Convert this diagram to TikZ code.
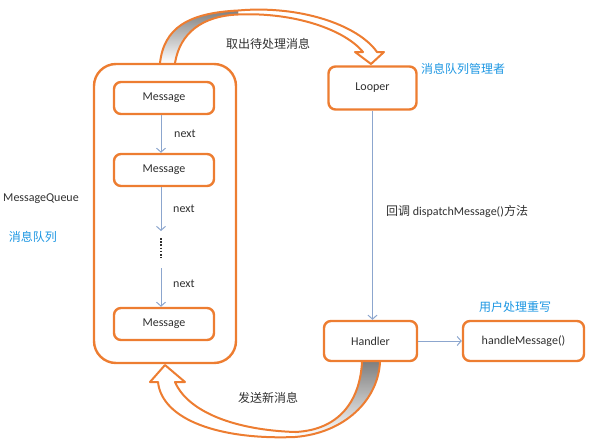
\documentclass[tikz,border=0pt]{standalone}
\usepackage{fontspec}
\setmainfont{Carlito}
\newfontfamily\cjk{Noto Sans CJK SC}
\usetikzlibrary{arrows.meta}
\definecolor{boxorange}{RGB}{237,125,49}
\definecolor{linkblue}{RGB}{140,166,206}
\definecolor{notecyan}{RGB}{28,150,226}
\definecolor{txtgray}{RGB}{48,48,48}
\definecolor{shade}{RGB}{200,200,200}

\begin{document}
\begin{tikzpicture}[x=1pt,y=-1pt,font=\fontsize{12}{14}\selectfont,
  txt/.style={text=txtgray,inner sep=0pt},
  cn/.style={text=txtgray,inner sep=0pt,font=\fontsize{12}{14}\selectfont\cjk},
  note/.style={text=notecyan,inner sep=0pt,font=\fontsize{12}{14}\selectfont\cjk},
  msgbox/.style={draw=boxorange,line width=2.4pt,rounded corners=7pt,fill=white,
    text=txtgray,minimum width=100pt,minimum height=32pt,inner sep=0pt},
  link/.style={draw=linkblue,line width=1pt,-{Straight Barb[length=4pt,width=9pt]}},
  bandline/.style={draw=boxorange,line width=2pt,line join=round}]

  \useasboundingbox (0,0) rectangle (600,442);

  % top band: queue -> looper
  \fill[white] (160,63) .. controls (164,28) and (188,13) .. (238,10.5)
    .. controls (300,5) and (358,25) .. (377,52) -- (384,52) -- (371,64) -- (355,52) -- (363,52)
    .. controls (345,30) and (295,12) .. (238,14.5)
    .. controls (202,16) and (180,33) .. (175,63) -- cycle;
  \fill[shade] (160,63) .. controls (164,28) and (188,13) .. (238,10.5) -- (238,14.5)
    .. controls (202,16) and (180,33) .. (175,63) -- cycle;
  \draw[bandline] (160,63) .. controls (164,28) and (188,13) .. (238,10.5)
    .. controls (300,5) and (358,25) .. (377,52) -- (384,52) -- (371,64) -- (355,52) -- (363,52)
    .. controls (345,30) and (295,12) .. (238,14.5)
    .. controls (202,16) and (180,33) .. (175,63);

  % bottom band: handler -> queue
  \fill[white] (380,362) .. controls (378,400) and (345,433) .. (295,437)
    .. controls (220,440) and (162,420) .. (158,382) -- (150,382) -- (165,365) -- (185,382) -- (175,382)
    .. controls (188,412) and (235,430) .. (295,432)
    .. controls (340,430) and (360,400) .. (362,362) -- cycle;
  \fill[shade] (380,362) .. controls (378,400) and (345,433) .. (295,437) -- (295,432)
    .. controls (340,430) and (360,400) .. (362,362) -- cycle;
  \draw[bandline] (380,362) .. controls (378,400) and (345,433) .. (295,437)
    .. controls (220,440) and (162,420) .. (158,382) -- (150,382) -- (165,365) -- (185,382) -- (175,382)
    .. controls (188,412) and (235,430) .. (295,432)
    .. controls (340,430) and (360,400) .. (362,362);

  \node[draw=boxorange,line width=2.4pt,rounded corners=22pt,minimum width=142pt,
    minimum height=299pt,inner sep=0pt] (queue) at (165,213.5) {};

  \node[msgbox] (m1) at (164,98) {Message};
  \node[msgbox] (m2) at (164,170) {Message};
  \node[msgbox] (m3) at (164,324) {Message};
  \node[msgbox,minimum width=88pt,minimum height=43pt] (looper) at (372.5,88) {Looper};
  \node[msgbox,minimum width=93pt,minimum height=40pt] (handler) at (370.5,341) {Handler};
  \node[msgbox,minimum width=121pt,minimum height=40pt] (handle) at (523.5,341) {handleMessage()};

  % next chain
  \coordinate (gapTop) at (161,231);
  \coordinate (dotTop) at (161,238);
  \coordinate (dotBot) at (161,258);
  \coordinate (gapBot) at (161,268);
  \draw[link] ([xshift=-3pt]m1.south) -- ([xshift=-3pt]m2.north);
  \draw[link] ([xshift=-3pt]m2.south) -- (gapTop);
  \draw[txtgray,line width=2pt,dash pattern=on 1.6pt off 1.6pt] (dotTop) -- (dotBot);
  \draw[link] (gapBot) -- ([xshift=-3pt]m3.north);
  \node[txt,anchor=west] (next1) at (174,134) {next};
  \node[txt,anchor=west] (next2) at (173,209) {next};
  \node[txt,anchor=west] (next3) at (173,284) {next};

  \draw[link] (looper.south) -- (looper.south |- handler.north);
  \draw[link] (handler) -- (handle);

  \node[cn] (fetch) at (268,44) {取出待处理消息};
  \node[cn] (send) at (268,398) {发送新消息};
  \node[note] (mgr) at (463,69) {消息队列管理者};
  \node[note] (user) at (515,307) {用户处理重写};
  \node[txt] (mq) at (41,199) {MessageQueue};
  \node[note] (mqcn) at (33,237) {消息队列};
  \node[txt,anchor=west] (callback) at (386,211) {{\cjk 回调} dispatchMessage(){\cjk 方法}};

\end{tikzpicture}
\end{document}
